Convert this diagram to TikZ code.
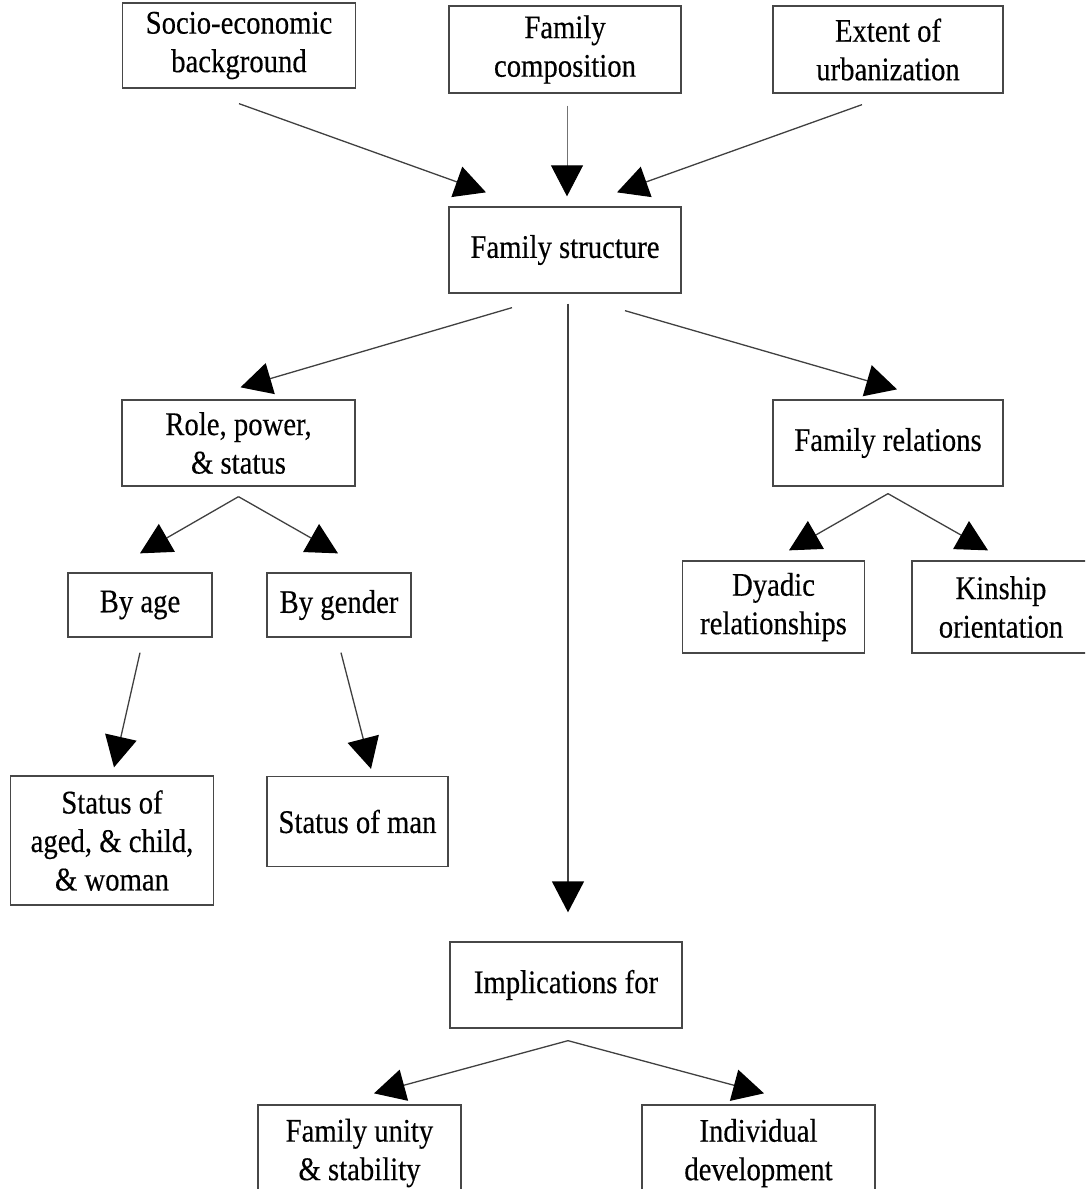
\documentclass[tikz,border=0pt]{standalone}
\usepackage{fontspec}
\newfontfamily\diagfont[FakeStretch=0.87,FakeBold=0.3]{Liberation Serif}
\usetikzlibrary{arrows.meta,calc}
\begin{document}
\begin{tikzpicture}[x=1pt,y=-1pt,
  box/.style={draw=black!72, line width=1.3pt, fill=white, inner sep=0pt,
    align=center, text=black, font=\diagfont\fontsize{33}{38.5}\selectfont},
  arr/.style={draw=black!75, line width=1.3pt,
    -{Triangle[length=31pt,width=32pt,color=black]}},
  thinarr/.style={arr, line width=0.8pt, draw=black!55}
]
\useasboundingbox (0,0) rectangle (1085,1189);
\clip (0,0) rectangle (1085,1189);

% top row
\node[box, minimum width=233pt, minimum height=85pt] (socio) at (239,45.5) {Socio-economic\\background};
\node[box, minimum width=232pt, minimum height=87pt] (comp) at (565,49.5) {Family\\composition};
\node[box, minimum width=230pt, minimum height=87pt] (urban) at (888,49.5) {Extent of\\urbanization};
% centre
\node[box, minimum width=232pt, minimum height=86pt] (fs) at (565,250) {Family structure};
% second level
\node[box, minimum width=233pt, minimum height=86pt] (role) at (238.5,443) {Role, power,\\\& status};
\node[box, minimum width=230pt, minimum height=86pt] (rel) at (888,443) {Family relations};
% third level
\node[box, minimum width=144pt, minimum height=64pt] (age) at (140,605) {By age};
\node[box, minimum width=144pt, minimum height=64pt] (gender) at (339,605) {By gender};
\node[box, minimum width=182pt, minimum height=92pt] (dyadic) at (773.5,607) {Dyadic\\relationships};
\node[box, minimum width=178pt, minimum height=92pt] (kin) at (1001,607) {Kinship\\orientation};
% fourth level
\node[box, minimum width=203pt, minimum height=129pt] (aged) at (112,840.5) {Status of\\aged, \& child,\\\& woman};
\node[box, minimum width=181pt, minimum height=90pt] (man) at (357.5,821.5) {Status of man};
% implications
\node[box, minimum width=232pt, minimum height=86pt] (impl) at (566,985) {Implications for};
\node[box, minimum width=203pt, minimum height=96pt] (unity) at (359.5,1153) {Family unity\\\& stability};
\node[box, minimum width=233pt, minimum height=96pt] (indiv) at (758.5,1153) {Individual\\development};

% connectors into family structure
\draw[arr] ($(socio.south)+(0,15)$) -- ($(fs.north)+(-79,-14)$);
\draw[thinarr] ($(comp.south)+(2,12)$) -- ($(fs.north)+(2,-10)$);
\draw[arr] ($(urban.south)+(-26,11)$) -- ($(fs.north)+(52,-14)$);
% out of family structure
\draw[arr] ($(fs.south)+(-53,14)$) -- ($(role.north)+(2,-12)$);
\draw[arr] ($(fs.south)+(3,10)$) -- ($(impl.north)+(2,-29)$);
\draw[arr] ($(fs.south)+(60,17)$) -- ($(rel.north)+(9,-10)$);
% role branches
\coordinate (rp) at ($(role.south)+(0,10)$);
\draw[arr] (rp) -- ($(age.north)+(0,-19)$);
\draw[arr] (rp) -- ($(gender.north)+(-1,-19)$);
% relation branches
\coordinate (fp) at ($(rel.south)+(0,7)$);
\draw[arr] (fp) -- ($(dyadic.north)+(15.5,-10)$);
\draw[arr] (fp) -- ($(kin.north)+(-13,-10)$);
% status arrows
\draw[arr] ($(age.south)+(0,15)$) -- ($(aged.north)+(2,-8)$);
\draw[arr] ($(gender.south)+(2,15)$) -- ($(man.north)+(13.5,-7)$);
% implications branches
\coordinate (ip) at ($(impl.south)+(2,12)$);
\draw[arr] (ip) -- ($(unity.north)+(14.5,-11)$);
\draw[arr] (ip) -- ($(indiv.north)+(5.5,-11)$);
\end{tikzpicture}
\end{document}
